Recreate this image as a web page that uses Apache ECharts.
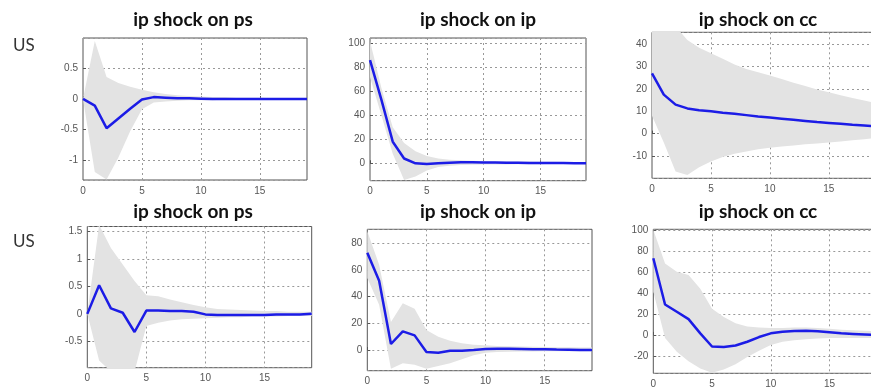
<!DOCTYPE html>
<html>
<head>
<meta charset="utf-8">
<script src="https://cdn.jsdelivr.net/npm/echarts@6/dist/echarts.min.js"></script>
<style>
  html, body { margin: 0; padding: 0; background: #ffffff; }
  #chart { width: 871px; height: 389px; }
</style>
</head>
<body>
<div id="chart"></div>
<script>
// Impulse responses to an ip shock, horizons 0..19, with error bands.
const horizons = [0, 1, 2, 3, 4, 5, 6, 7, 8, 9, 10, 11, 12, 13, 14, 15, 16, 17, 18, 19];

const panelTitles = ['ip shock on ps', 'ip shock on ip', 'ip shock on cc',
                     'ip shock on ps', 'ip shock on ip', 'ip shock on cc'];
const rowLabels = ['US', 'US'];

// Row 1 — ps
const psMeanA  = [0, -0.11, -0.48, -0.32, -0.16, -0.01, 0.03, 0.02, 0.01, 0.01, 0.005, 0, 0, 0, 0, 0, 0, 0, 0, 0];
const psUpperA = [0, 0.95, 0.36, 0.26, 0.2, 0.15, 0.11, 0.08, 0.06, 0.05, 0.04, 0.03, 0.03, 0.02, 0.02, 0.02, 0.01, 0.01, 0.01, 0.01];
const psLowerA = [0, -1.2, -1.32, -0.96, -0.53, -0.17, -0.06, -0.04, -0.03, -0.02, -0.02, -0.02, -0.01, -0.01, -0.01, -0.01, -0.01, -0.01, -0.01, -0.01];

// Row 1 — ip
const ipMeanA  = [86, 53, 18, 4, 0, -0.5, 0, 0.5, 0.8, 0.8, 0.7, 0.6, 0.5, 0.4, 0.3, 0.3, 0.2, 0.2, 0.1, 0.1];
const ipUpperA = [102, 63, 30, 17, 10, 6, 4, 3, 2.5, 2.2, 2, 1.8, 1.6, 1.5, 1.4, 1.3, 1.2, 1.1, 1, 1];
const ipLowerA = [72, 40, 8, -14, -11, -6, -3, -2, -1.5, -1.2, -1, -1, -0.9, -0.8, -0.8, -0.7, -0.6, -0.6, -0.5, -0.5];

// Row 1 — cc
const ccMeanA  = [27, 17.5, 13, 11.3, 10.5, 10, 9.4, 8.9, 8.3, 7.7, 7.2, 6.7, 6.2, 5.7, 5.2, 4.8, 4.4, 4, 3.7, 3.3];
const ccUpperA = [60, 55, 48, 42, 38.5, 36, 33.5, 31, 29, 27.5, 26, 24.5, 22.8, 21.3, 19.8, 18.5, 17.2, 16, 14.8, 13.8];
const ccLowerA = [8, -4, -17, -18.5, -15, -12.5, -10.5, -9, -8, -7, -6.3, -5.8, -5.3, -4.8, -4.4, -4, -3.5, -3, -2.5, -2];

// Row 2 — ps
const psMeanB  = [0, 0.52, 0.1, 0.02, -0.33, 0.06, 0.06, 0.05, 0.05, 0.04, -0.01, -0.02, -0.02, -0.02, -0.02, -0.02, -0.01, -0.01, -0.01, 0];
const psUpperB = [0, 1.62, 1.2, 0.9, 0.6, 0.34, 0.32, 0.26, 0.21, 0.16, 0.12, 0.09, 0.08, 0.07, 0.06, 0.05, 0.05, 0.04, 0.04, 0.04];
const psLowerB = [0, -0.85, -1.05, -1.05, -1.05, -0.22, -0.16, -0.12, -0.1, -0.09, -0.08, -0.07, -0.06, -0.06, -0.05, -0.05, -0.05, -0.04, -0.04, -0.04];

// Row 2 — ip
const ipMeanB  = [73, 52, 4.5, 14, 11, -1.5, -2, -0.5, -0.5, 0, 0.8, 1, 1, 0.8, 0.6, 0.5, 0.3, 0.2, 0.1, 0];
const ipUpperB = [89, 64, 21, 35, 31, 15, 10, 7, 5, 4, 3.5, 3, 2.8, 2.6, 2.4, 2.2, 2, 2, 1.8, 1.8];
const ipLowerB = [54, 34, -14, -10, -11, -14, -12, -10, -7, -4, -2, -1.5, -1.3, -1.2, -1.1, -1, -1, -1, -0.9, -0.9];

// Row 2 — cc
const ccMeanB  = [73, 29, 22, 15, 1.5, -11, -11.5, -10, -6.5, -2, 1.5, 3, 3.8, 4, 3.5, 2.5, 1.5, 1, 0.5, 0];
const ccUpperB = [100, 68, 60, 57, 44, 25, 17, 11, 8, 7, 6.5, 6.5, 7, 7, 6.5, 6, 5, 4.5, 4, 3.5];
const ccLowerB = [41, -3, -16, -25, -32, -36, -33, -28, -21, -15, -9.5, -6.5, -5, -4, -3.5, -3, -3, -3, -3, -3];

const panelData = [
  { mean: psMeanA, upper: psUpperA, lower: psLowerA },
  { mean: ipMeanA, upper: ipUpperA, lower: ipLowerA },
  { mean: ccMeanA, upper: ccUpperA, lower: ccLowerA },
  { mean: psMeanB, upper: psUpperB, lower: psLowerB },
  { mean: ipMeanB, upper: ipUpperB, lower: ipLowerB },
  { mean: ccMeanB, upper: ccUpperB, lower: ccLowerB }
];

// Value ranges of each panel's y axis
const yRanges = [
  { min: -1.33, max: 1.0, split: 5 },
  { min: -14.5, max: 104.4, split: 5 },
  { min: -20, max: 45.4, split: 5 },
  { min: -0.98, max: 1.59, split: 5 },
  { min: -15.5, max: 90.5, split: 5 },
  { min: -36.5, max: 100.5, split: 7 }
];

// Plot rectangles (left, top, width, height)
const boxes = [
  [83, 38, 224, 142],
  [370, 38, 216, 142.7],
  [652, 32.3, 224, 146],
  [87.3, 226.5, 224.4, 141.2],
  [367.3, 229.3, 224.7, 141.4],
  [653.3, 229.3, 223.2, 144]
];
const titleCenters = [[188, 5], [473, 5], [753, 5], [188, 197], [473, 197], [753, 197]];

const tickFont = { fontFamily: 'Liberation Sans', fontSize: 10, color: '#555' };
const everyFifth = (idx) => idx % 5 === 0;
const innerEveryFifth = (idx) => idx % 5 === 0 && idx !== 0;

const grids = [], xAxes = [], yAxes = [], series = [], titles = [];

boxes.forEach((b, i) => {
  grids.push({
    left: b[0], top: b[1], width: b[2], height: b[3],
    show: true, borderColor: '#555', borderWidth: 1,
    backgroundColor: 'transparent',
    containLabel: false, outerBoundsMode: 'none'
  });
  xAxes.push({
    type: 'category', gridIndex: i, data: horizons.map(String), boundaryGap: false,
    axisLine: { show: false },
    axisTick: { show: true, inside: true, length: 3, interval: everyFifth, lineStyle: { color: '#555' } },
    axisLabel: Object.assign({ margin: 6, interval: everyFifth }, tickFont),
    splitLine: { show: true, interval: innerEveryFifth, lineStyle: { color: '#999', width: 1, type: [2, 3] } }
  });
  const r = yRanges[i];
  yAxes.push({
    type: 'value', gridIndex: i, min: r.min, max: r.max, splitNumber: r.split,
    axisLine: { show: false },
    axisTick: { show: true, inside: true, length: 3, lineStyle: { color: '#555' } },
    axisLabel: Object.assign({ margin: 5, showMinLabel: false, showMaxLabel: false }, tickFont),
    splitLine: { show: true, lineStyle: { color: '#999', width: 1, type: [2, 3] } }
  });

  const d = panelData[i];
  const bandWidth = d.upper.map((u, k) => u - d.lower[k]);

  // lower bound (invisible) + band width stacked on it
  series.push({
    type: 'line', xAxisIndex: i, yAxisIndex: i, data: d.lower,
    stack: 'band' + i, stackStrategy: 'all',
    symbol: 'none', lineStyle: { opacity: 0 }, silent: true, z: 2
  });
  series.push({
    type: 'line', xAxisIndex: i, yAxisIndex: i, data: bandWidth,
    stack: 'band' + i, stackStrategy: 'all',
    symbol: 'none', lineStyle: { opacity: 0 },
    areaStyle: { color: '#e3e3e3', opacity: 1 }, silent: true, z: 2
  });
  // point estimate
  series.push({
    type: 'line', xAxisIndex: i, yAxisIndex: i, data: d.mean,
    symbol: 'none', lineStyle: { color: '#1c1ce6', width: 2.5 }, z: 3
  });

  titles.push({
    text: panelTitles[i], left: titleCenters[i][0], top: titleCenters[i][1],
    textAlign: 'center',
    textStyle: { fontFamily: 'Lato', fontWeight: 'bold', fontSize: 19, color: '#111' }
  });
});

titles.push({ text: rowLabels[0], left: 8, top: 32,
  textStyle: { fontFamily: 'Lato', fontWeight: 'normal', fontSize: 17, color: '#333' } });
titles.push({ text: rowLabels[1], left: 8, top: 228,
  textStyle: { fontFamily: 'Lato', fontWeight: 'normal', fontSize: 17, color: '#333' } });

const chart = echarts.init(document.getElementById('chart'), null, { renderer: 'canvas' });
chart.setOption({
  animation: false,
  backgroundColor: '#ffffff',
  title: titles,
  grid: grids,
  xAxis: xAxes,
  yAxis: yAxes,
  series: series
});
</script>
</body>
</html>
